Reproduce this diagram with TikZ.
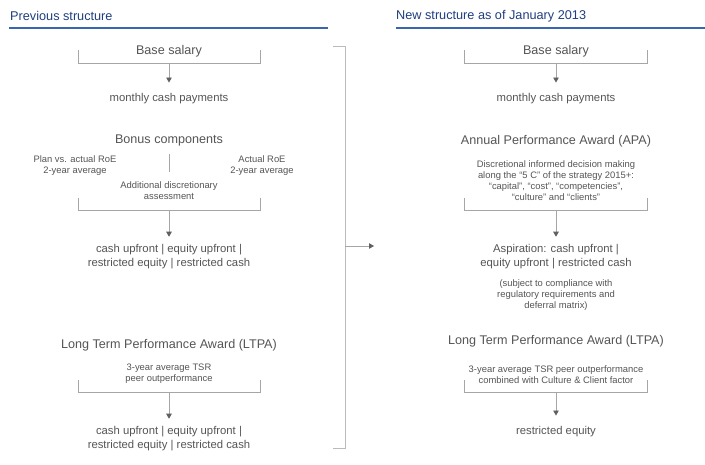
\documentclass[tikz,border=0pt]{standalone}
\usepackage{fontspec}
\setmainfont{Liberation Sans}
\usetikzlibrary{arrows.meta}
\definecolor{titleblue}{HTML}{1F3F80}
\definecolor{ruleblue}{HTML}{3A66B0}
\definecolor{txt}{HTML}{555555}
\definecolor{brk}{HTML}{A6A6A6}
\definecolor{bigbrk}{HTML}{BBBBBB}
\definecolor{tipc}{HTML}{606060}
\tikzset{
  title/.style={anchor=west, text=titleblue, font=\fontsize{12.7}{14}\selectfont, inner sep=0pt},
  head/.style={text=txt, font=\fontsize{12.6}{15}\selectfont, inner sep=0pt, align=center, yshift=-1.5pt},
  body/.style={text=txt, font=\fontsize{11.3}{13.6}\selectfont, inner sep=0pt, align=center, yshift=-1.5pt},
  small/.style={text=txt, font=\fontsize{9.4}{11}\selectfont, inner sep=0pt, align=center, yshift=-1pt},
  brack/.style={draw=brk, line width=0.8pt},
  flow/.style={draw=brk, line width=0.8pt, -{Triangle[width=5.5pt,length=5pt,color=tipc]}},
  rulel/.style={draw=ruleblue, line width=1.2pt},
}
\begin{document}
\begin{tikzpicture}[x=1pt,y=-1pt]
\useasboundingbox[fill=white] (0,0) rectangle (705,464);
% titles
\node[title] (t1) at (10,16) {Previous structure};
\node[title] (t2) at (396,16) {New structure as of January 2013};
\coordinate (r1a) at (9,28); \coordinate (r1b) at (328,28);
\coordinate (r2a) at (396,28); \coordinate (r2b) at (705,28);
\draw[rulel] (r1a) -- (r1b);
\draw[rulel] (r2a) -- (r2b);

% big bracket + arrow
\coordinate (bb1) at (333,46); \coordinate (bb2) at (345,46);
\coordinate (bb3) at (345,448); \coordinate (bb4) at (333,448);
\draw[draw=bigbrk, line width=1pt] (bb1) -- (bb2) -- (bb3) -- (bb4);
\coordinate (ba1) at (345,246); \coordinate (ba2) at (374,246);
\draw[flow] (ba1) -- (ba2);

% ---------- LEFT column ----------
\node[head] (lbase) at (169,50) {Base salary};
\coordinate (lb1) at (78,50); \coordinate (lb2) at (78,63);
\coordinate (lb3) at (260,63); \coordinate (lb4) at (260,50);
\coordinate (lbm) at (169,63);
\draw[brack] (lb1) -- (lb2) -- (lb3) -- (lb4);
\node[body] (lmon) at (169,97) {monthly cash payments};
\draw[flow] (lbm) -- ([yshift=10.5pt]lmon.north);

\node[head] (lbon) at (169,139) {Bonus components};
\node[small] (lplan) at (75,165) {Plan vs. actual RoE\\2-year average};
\node[small] (lact) at (262,165) {Actual RoE\\2-year average};
\coordinate (lv1) at (169,154); \coordinate (lv2) at (169,172);
\draw[brack] (lv1) -- (lv2);
\node[small] (ladd) at (169,190) {Additional discretionary\\assessment};
\coordinate (lc1) at (78,198); \coordinate (lc2) at (78,210);
\coordinate (lc3) at (260,210); \coordinate (lc4) at (260,198);
\coordinate (lcm) at (169,210);
\draw[brack] (lc1) -- (lc2) -- (lc3) -- (lc4);
\node[body] (lcash) at (169,255) {cash upfront | equity upfront |\\restricted equity | restricted cash};
\draw[flow] (lcm) -- ([yshift=7.5pt]lcash.north);

\node[head] (lltpa) at (169,344) {Long Term Performance Award (LTPA)};
\node[small] (ltsr) at (169,373) {3-year average TSR\\peer outperformance};
\coordinate (ll1) at (78,380); \coordinate (ll2) at (78,392);
\coordinate (ll3) at (260,392); \coordinate (ll4) at (260,380);
\coordinate (llm) at (169,392);
\draw[brack] (ll1) -- (ll2) -- (ll3) -- (ll4);
\node[body] (lcash2) at (169,437) {cash upfront | equity upfront |\\restricted equity | restricted cash};
\draw[flow] (llm) -- ([yshift=7.5pt]lcash2.north);

% ---------- RIGHT column ----------
\node[head] (rbase) at (556,50) {Base salary};
\coordinate (rb1) at (464,50); \coordinate (rb2) at (464,63);
\coordinate (rb3) at (647,63); \coordinate (rb4) at (647,50);
\coordinate (rbm) at (556,63);
\draw[brack] (rb1) -- (rb2) -- (rb3) -- (rb4);
\node[body] (rmon) at (556,97) {monthly cash payments};
\draw[flow] (rbm) -- ([yshift=10.5pt]rmon.north);

\node[head] (rapa) at (556,140) {Annual Performance Award (APA)};
\node[small] (rdisc) at (556,180) {Discretional informed decision making\\along the “5 C” of the strategy 2015+:\\“capital”, “cost”, “competencies”,\\“culture” and “clients”};
\coordinate (rc1) at (464,198); \coordinate (rc2) at (464,210);
\coordinate (rc3) at (647,210); \coordinate (rc4) at (647,198);
\coordinate (rcm) at (556,210);
\draw[brack] (rc1) -- (rc2) -- (rc3) -- (rc4);
\node[body] (rasp) at (556,255) {Aspiration: cash upfront |\\equity upfront | restricted cash};
\draw[flow] (rcm) -- ([yshift=7.5pt]rasp.north);
\node[small] (rsub) at (556,294.5) {(subject to compliance with\\regulatory requirements and\\deferral matrix)};

\node[head] (rltpa) at (556,340) {Long Term Performance Award (LTPA)};
\node[small] (rtsr) at (556,373.5) {3-year average TSR peer outperformance\\combined with Culture \& Client factor};
\coordinate (rl1) at (464,380); \coordinate (rl2) at (464,392);
\coordinate (rl3) at (647,392); \coordinate (rl4) at (647,380);
\coordinate (rlm) at (556,392);
\draw[brack] (rl1) -- (rl2) -- (rl3) -- (rl4);
\node[body] (rreq) at (556,430) {restricted equity};
\draw[flow] (rlm) -- ([yshift=10.5pt]rreq.north);
\end{tikzpicture}
\end{document}
